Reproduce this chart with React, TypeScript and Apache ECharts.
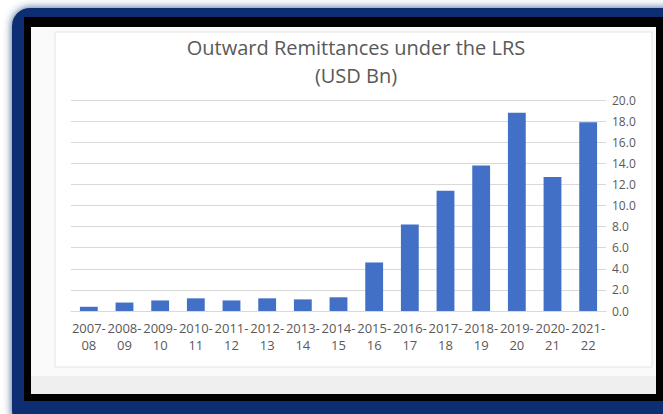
import React, { useEffect, useRef } from "react";
import * as echarts from "echarts";

const categories = [
  "2007-\n08", "2008-\n09", "2009-\n10", "2010-\n11", "2011-\n12",
  "2012-\n13", "2013-\n14", "2014-\n15", "2015-\n16", "2016-\n17",
  "2017-\n18", "2018-\n19", "2019-\n20", "2020-\n21", "2021-\n22",
];
const remittances = [0.4, 0.8, 1.0, 1.2, 1.0, 1.2, 1.1, 1.3, 4.6, 8.2, 11.4, 13.8, 18.8, 12.7, 17.9];
const titleText = "Outward Remittances under the LRS\n(USD Bn)";

export default function App() {
  const ref = useRef<HTMLDivElement>(null);
  useEffect(() => {
    if (!ref.current) return;
    const chart = echarts.init(ref.current, null, { renderer: "svg" });
    const font = "'Open Sans', 'Noto Sans', sans-serif";
    chart.setOption({
      animation: false,
      backgroundColor: "#ffffff",
      graphic: [
        {
          type: "rect", z: -10, silent: true,
          shape: { x: 12, y: 8, width: 700, height: 420, r: 18 },
          style: { fill: "#112d72", shadowBlur: 8, shadowColor: "rgba(17,45,114,0.8)" },
        },
        {
          type: "rect", z: -9, silent: true,
          shape: { x: 24, y: 17, width: 660, height: 384 },
          style: { fill: "#000000" },
        },
        {
          type: "rect", z: -8, silent: true,
          shape: { x: 31, y: 27, width: 625, height: 367 },
          style: { fill: "#fafafa" },
        },
        {
          type: "rect", z: -7, silent: true,
          shape: { x: 31, y: 376, width: 625, height: 18 },
          style: { fill: "#efefef" },
        },
        {
          type: "rect", z: -6, silent: true,
          shape: { x: 55, y: 32, width: 597, height: 335 },
          style: { fill: "#ffffff", stroke: "#e4e4e4", lineWidth: 1 },
        },
      ],
      title: {
        text: titleText,
        left: 356,
        top: 33,
        padding: 0,
        textAlign: "center",
        textStyle: {
          fontFamily: font,
          fontSize: 20,
          fontWeight: "normal",
          color: "#595959",
          lineHeight: 28,
        },
      },
      grid: { left: 71, right: 57, top: 100, bottom: 103 },
      xAxis: {
        type: "category",
        data: categories,
        axisLine: { show: true, lineStyle: { color: "#d9d9d9" } },
        axisTick: { show: false },
        axisLabel: {
          interval: 0,
          color: "#595959",
          fontFamily: font,
          fontSize: 13,
          lineHeight: 17,
          margin: 8,
        },
      },
      yAxis: {
        type: "value",
        position: "right",
        min: 0,
        max: 20,
        interval: 2,
        axisLine: { show: false },
        axisTick: { show: false },
        splitLine: { lineStyle: { color: "#d9d9d9" } },
        axisLabel: {
          formatter: (v: number) => v.toFixed(1),
          color: "#595959",
          fontFamily: font,
          fontSize: 12,
          margin: 6,
        },
      },
      series: [
        {
          type: "bar",
          data: remittances,
          barWidth: "50%",
          itemStyle: { color: "#4170c6" },
        },
      ],
    });
    return () => chart.dispose();
  }, []);
  return (
    <div
      ref={ref}
      style={{ position: "fixed", left: 0, top: 0, width: 663, height: 414 }}
    />
  );
}
